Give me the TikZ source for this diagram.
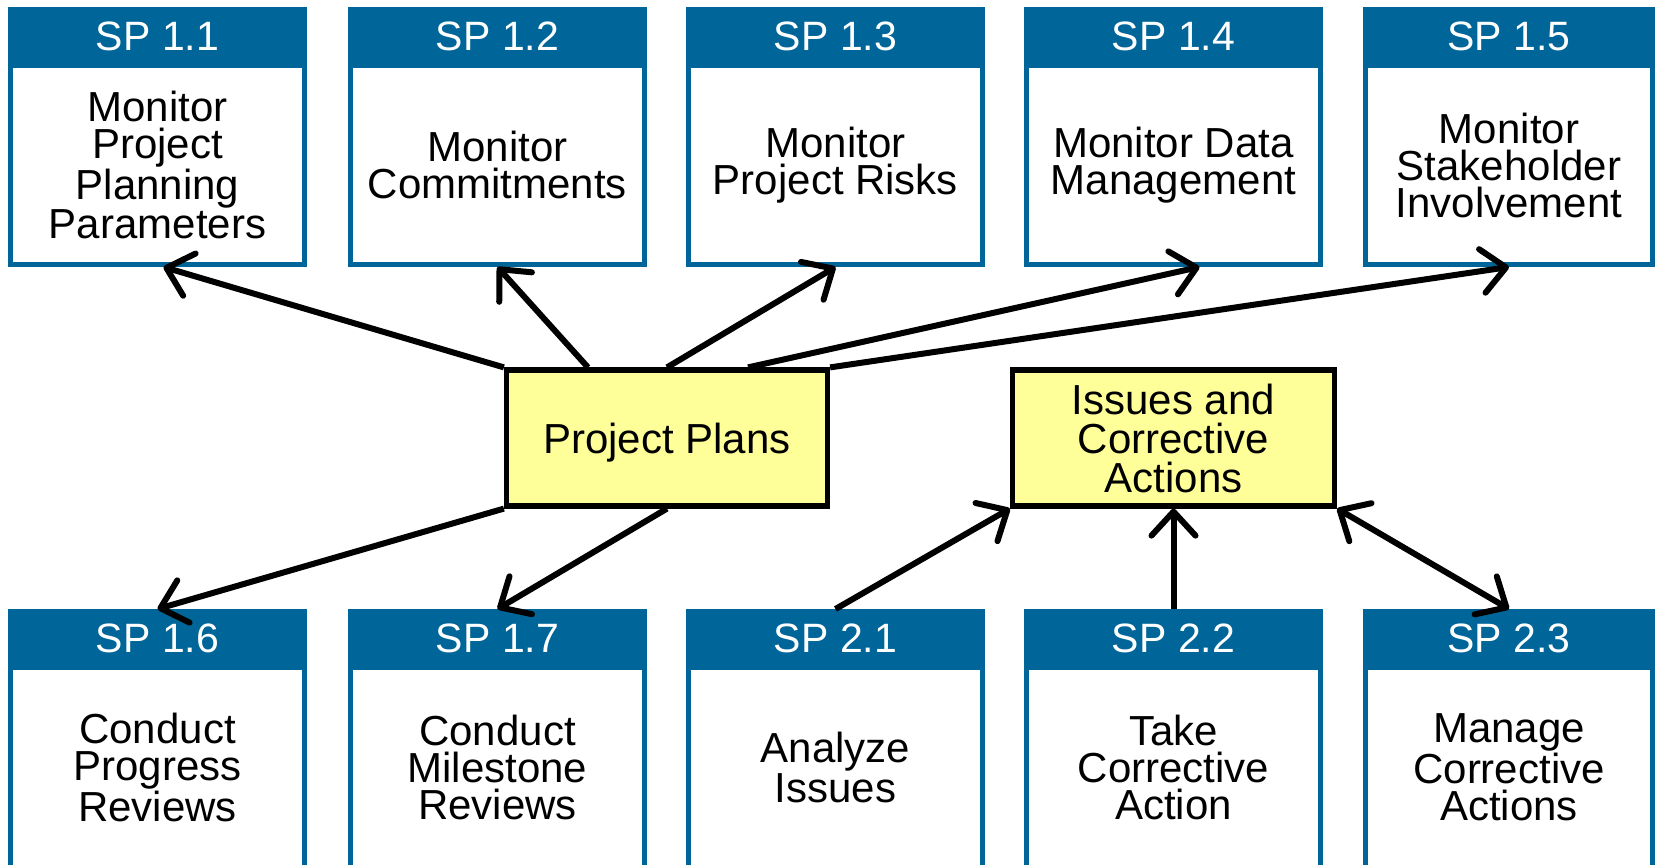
\documentclass[tikz,border=0pt]{standalone}
\usepackage{fontspec}
\setmainfont{Liberation Sans}
\usetikzlibrary{arrows.meta,calc}
\definecolor{spblue}{RGB}{0,102,153}
\definecolor{ppyellow}{RGB}{255,255,153}
\begin{document}
\begin{tikzpicture}[x=0.5pt,y=-0.5pt,
 hdr/.style={fill=spblue, text=white, minimum width=149.5pt, minimum height=29pt, inner sep=0pt, outer sep=0pt, font=\fontsize{20.5}{20}\selectfont},
 bodybox/.style={draw=spblue, line width=2.5pt, fill=white, minimum width=147pt, minimum height=99.5pt, inner sep=0pt, align=center, font=\fontsize{21}{18.5}\selectfont},
 topic/.style={draw=black, line width=2.6pt, fill=ppyellow, minimum width=160.5pt, minimum height=68pt, inner sep=0pt, align=center, font=\fontsize{21}{19.5}\selectfont},
 arr/.style={line width=3pt, -{Straight Barb[length=12pt,width=22pt,round]}},
 darr/.style={line width=3pt, {Straight Barb[length=12pt,width=22pt,round]}-{Straight Barb[length=12pt,width=22pt,round]}}]
\useasboundingbox (0,0) rectangle (1655,865);
\clip (0,0) rectangle (1655,865);

% top row
\node[bodybox] (b11) at (157.5,165) {Monitor\\Project\\Planning\\Parameters};
\node[hdr] (h11) at (157.5,36) {SP 1.1};
\node[bodybox] (b12) at (497.5,165) {Monitor\\Commitments};
\node[hdr] (h12) at (497.5,36) {SP 1.2};
\node[bodybox] (b13) at (835.5,165) {Monitor\\Project Risks};
\node[hdr] (h13) at (835.5,36) {SP 1.3};
\node[bodybox] (b14) at (1173.5,165) {Monitor Data\\Management};
\node[hdr] (h14) at (1173.5,36) {SP 1.4};
\node[bodybox, minimum width=143.5pt] (b15) at (1509,165) {Monitor\\Stakeholder\\Involvement};
\node[hdr, minimum width=146pt] (h15) at (1509,36) {SP 1.5};

% bottom row
\node[bodybox, minimum height=100pt] (b16) at (157.5,767.5) {Conduct\\Progress\\Reviews};
\node[hdr] (h16) at (157.5,638) {SP 1.6};
\node[bodybox, minimum height=100pt] (b17) at (497.5,767.5) {Conduct\\Milestone\\Reviews};
\node[hdr] (h17) at (497.5,638) {SP 1.7};
\node[bodybox, minimum height=100pt] (b21) at (835.5,767.5) {Analyze\\Issues};
\node[hdr] (h21) at (835.5,638) {SP 2.1};
\node[bodybox, minimum height=100pt] (b22) at (1173.5,767.5) {Take\\Corrective\\Action};
\node[hdr] (h22) at (1173.5,638) {SP 2.2};
\node[bodybox, minimum height=100pt, minimum width=143.5pt] (b23) at (1509,767.5) {Manage\\Corrective\\Actions};
\node[hdr, minimum width=146pt] (h23) at (1509,638) {SP 2.3};

% work products
\node[topic, text height=20pt, text depth=4.4pt] (pp) at (667,438) {Project Plans};
\node[topic, minimum width=161pt] (ica) at (1173.5,438) {Issues and\\Corrective\\Actions};

\coordinate (pp-n1) at ($(pp.north)+(-79,0)$);
\coordinate (pp-n3) at ($(pp.north)+(81,0)$);
\coordinate (b11-t) at ($(b11.south)+(6,0)$);
\coordinate (b14-t) at ($(b14.south)+(26,0)$);

\draw[arr] (pp.north west) -- (b11-t);
\draw[arr] (pp-n1) -- (b12.south);
\draw[arr] (pp.north) -- (b13.south);
\draw[arr] (pp-n3) -- (b14-t);
\draw[arr] (pp.north east) -- (b15.south);
\draw[arr] (pp.south west) -- (h16.north);
\draw[arr] (pp.south) -- (h17.north);
\draw[arr] (h21.north) -- (ica.south west);
\draw[arr] (h22.north) -- (ica.south);
\draw[darr] (ica.south east) -- (h23.north);
\end{tikzpicture}
\end{document}
